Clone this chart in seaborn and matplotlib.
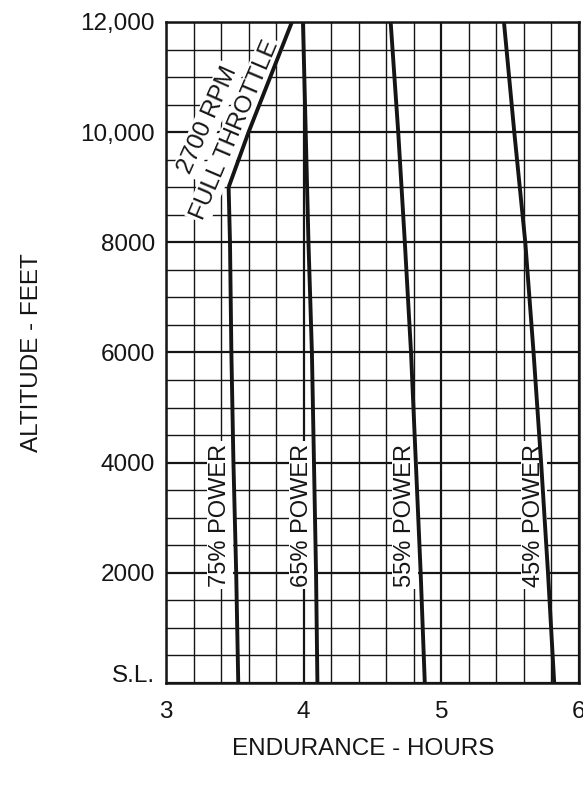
import numpy as np
import pandas as pd
import matplotlib
matplotlib.use("Agg")
import matplotlib.pyplot as plt
import seaborn as sns

# Altitude stations (feet) for the constant-power curves
alt_levels = [0, 2000, 4000, 6000, 8000, 10000, 12000]

# Endurance (hours) at each altitude for each power setting
p75_alt = [0, 2000, 4000, 6000, 8000, 9000]
p75_hours = [3.525, 3.51, 3.49, 3.475, 3.465, 3.455]
p65_hours = [4.10, 4.09, 4.075, 4.06, 4.035, 4.015, 3.995]
p55_hours = [4.88, 4.85, 4.815, 4.78, 4.735, 4.687, 4.632]
p45_hours = [5.82, 5.775, 5.725, 5.67, 5.61, 5.53, 5.455]

# 2700 RPM full-throttle limit above 9000 ft
ft_alt = [9000, 10000, 12000]
ft_hours = [3.455, 3.60, 3.915]

power_labels = ["75% POWER", "65% POWER", "55% POWER", "45% POWER"]

x_ticks = [3, 4, 5, 6]
y_ticks = [0, 2000, 4000, 6000, 8000, 10000, 12000]
y_tick_labels = ["S.L.", "2000", "4000", "6000", "8000", "10,000", "12,000"]

frames = [
    pd.DataFrame({"hours": p75_hours, "alt": p75_alt, "curve": "75"}),
    pd.DataFrame({"hours": p65_hours, "alt": alt_levels, "curve": "65"}),
    pd.DataFrame({"hours": p55_hours, "alt": alt_levels, "curve": "55"}),
    pd.DataFrame({"hours": p45_hours, "alt": alt_levels, "curve": "45"}),
    pd.DataFrame({"hours": ft_hours, "alt": ft_alt, "curve": "ft"}),
]
df = pd.concat(frames, ignore_index=True)

sns.set_theme(style="white")
plt.rcParams["font.family"] = ["Liberation Sans", "DejaVu Sans"]
ink = "#151515"

fig = plt.figure(figsize=(5.83, 7.90), dpi=100)
ax = fig.add_axes([0.2847, 0.1354, 0.7084, 0.8368])

sns.lineplot(data=df, x="hours", y="alt", hue="curve", units="curve",
             estimator=None, sort=False, legend=False,
             palette={k: ink for k in df["curve"].unique()},
             linewidth=2.8, ax=ax, zorder=5)
for line in ax.lines:
    line.set_solid_capstyle("butt")

ax.set_xlim(3, 6)
ax.set_ylim(0, 12000)

ax.set_xticks(x_ticks)
ax.set_xticklabels([str(t) for t in x_ticks])
ax.set_yticks(y_ticks)
ax.set_yticklabels([""] + y_tick_labels[1:])
ax.set_xticks(np.arange(3, 6.001, 0.2), minor=True)
ax.set_yticks(np.arange(0, 12001, 500), minor=True)

ax.grid(which="major", color=ink, linewidth=1.6)
ax.grid(which="minor", color=ink, linewidth=1.0)
ax.set_axisbelow(True)

ax.tick_params(which="both", length=0)
ax.tick_params(axis="x", labelsize=17.5, pad=13, colors=ink)
ax.tick_params(axis="y", labelsize=17.5, pad=8, colors=ink)

# sea-level label sits a little above the baseline
ax.text(-0.027, 120, y_tick_labels[0], transform=ax.get_yaxis_transform(),
        ha="right", va="center", fontsize=17.5, color=ink)

for spine in ax.spines.values():
    spine.set_visible(True)
    spine.set_color(ink)
    spine.set_linewidth(1.8)

ax.set_xlabel("ENDURANCE - HOURS", fontsize=17.5, color=ink, labelpad=12)
ax.xaxis.set_label_coords(0.478, -0.083)
ax.set_ylabel("ALTITUDE - FEET", fontsize=17.5, color=ink, labelpad=27)

box = dict(facecolor="white", edgecolor="none", pad=1.5)
label_x = [3.392, 3.988, 4.735, 5.672]
for txt, xh in zip(power_labels, label_x):
    ax.text(xh, 3050, txt, rotation=90, ha="center", va="center",
            fontsize=17, color=ink, bbox=box, zorder=4)

ax.text(3.305, 10220, "2700 RPM", rotation=66, rotation_mode="anchor",
        ha="center", va="center", fontsize=17.5, color=ink, bbox=box, zorder=4)
ax.text(3.50, 10040, "FULL THROTTLE", rotation=67, rotation_mode="anchor",
        ha="center", va="center", fontsize=17.5, color=ink, bbox=box, zorder=4)

fig.savefig("out.png", dpi=100, facecolor="white")
